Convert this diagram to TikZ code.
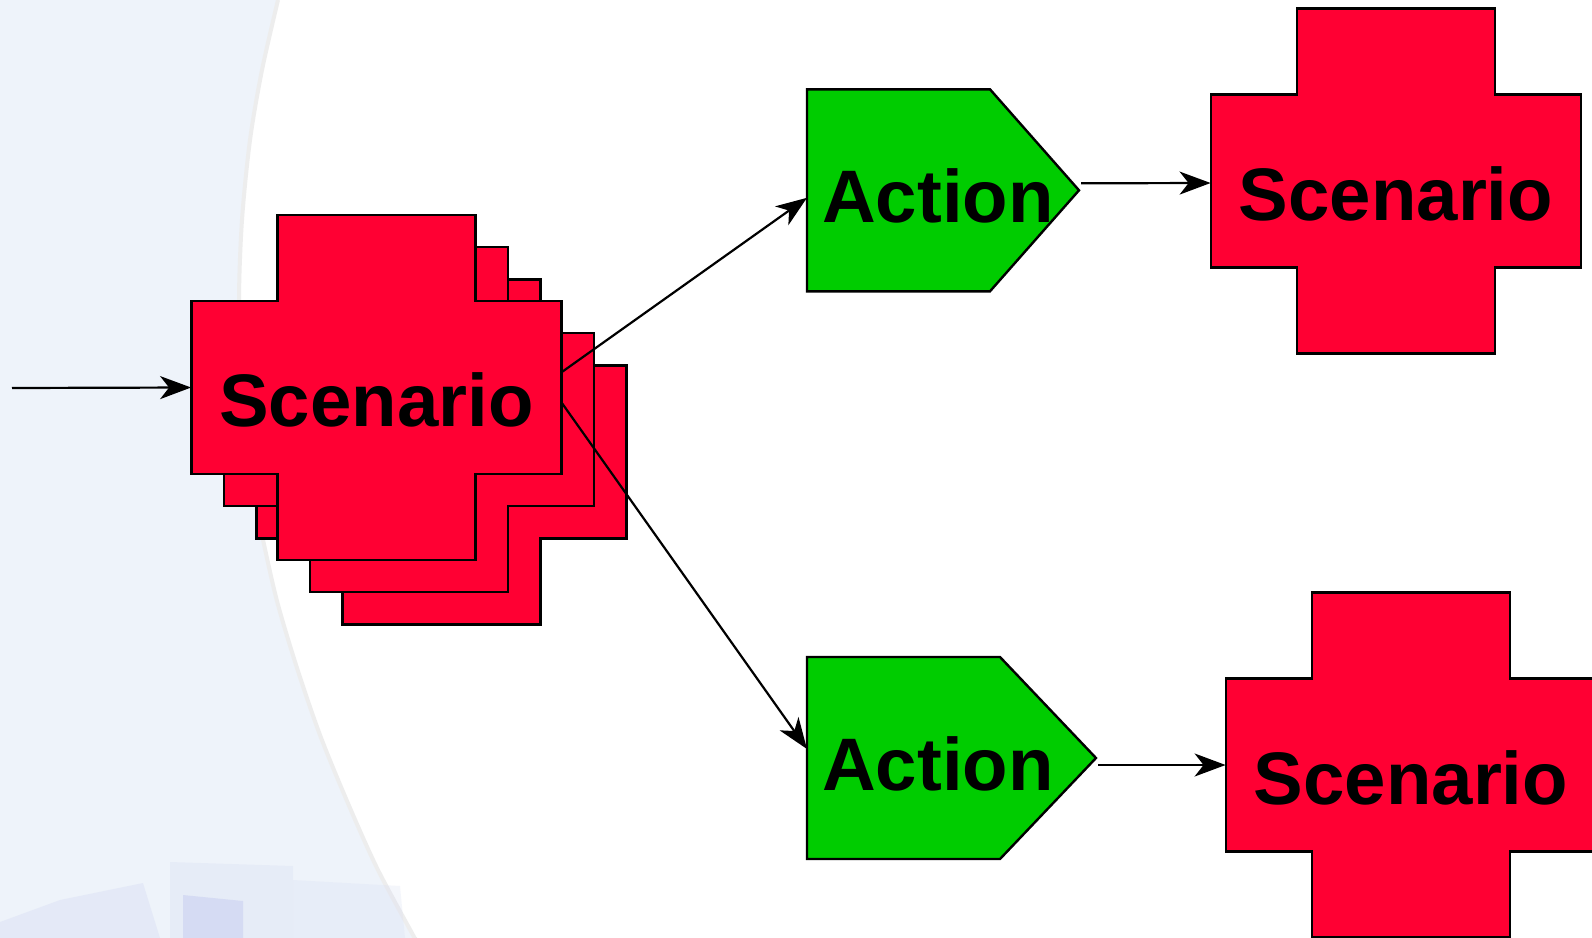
\documentclass[tikz,border=0pt]{standalone}
\usepackage{fontspec}
\setmainfont{Liberation Sans}
\usepackage{tikz}
\usetikzlibrary{arrows.meta,calc}
\definecolor{scenred}{RGB}{255,0,51}
\definecolor{actgreen}{RGB}{0,204,0}
\definecolor{paper}{RGB}{238,243,250}
\definecolor{ghost}{RGB}{214,220,243}
\definecolor{ghostdark}{RGB}{200,206,240}
\tikzset{
  crossline/.style={draw=black,fill=scenred,line width=1.2pt},
  actline/.style={draw=black,fill=actgreen,line width=1.2pt},
  boxtext/.style={font=\fontsize{37.2}{40}\selectfont\bfseries,inner sep=0pt,text depth=0pt},
  scen/.style={boxtext,minimum width=185pt,minimum height=172.5pt,text height=39.2pt},
  act/.style={boxtext,minimum width=130.5pt,minimum height=101pt,text height=32.2pt},
  flow/.style={line width=1.1pt,-{Stealth[length=15.5pt,width=11.5pt,inset=4.5pt]}}
}
% cross outline around a centre point
\newcommand{\crossat}[2]{\filldraw[crossline] (#1-99,#2-172.5) -- ++(198,0) -- ++(0,86) -- ++(86,0) -- ++(0,173) -- ++(-86,0) -- ++(0,86) -- ++(-198,0) -- ++(0,-86) -- ++(-86,0) -- ++(0,-173) -- ++(86,0) -- cycle;}
\newcommand{\scenario}[3]{\crossat{#2}{#3}\node[scen] (#1) at (#2,#3) {Scenario};}
% name, left, top, body width, point width
\newcommand{\action}[5]{
  \filldraw[actline] (#2,#3) -- ++(#4,0) -- ++(#5,101) coordinate (#1tip) -- ++(-#5,101) -- ++(-#4,0) -- cycle;
  \node[act,anchor=west] (#1) at (#2,#3+101) {Action};
}
\newcommand{\edgecurve}{(278,0) (262,70) (250,140) (242,220) (239,300) (241,400) (249,470) (262,535) (277,601) (297,668) (320,735) (347,801) (377,868) (413,935) (415,938)}
\begin{document}
\begin{tikzpicture}[x=0.5pt,y=-0.5pt]
\useasboundingbox (0,0) rectangle (1592,938);
\clip (0,0) rectangle (1592,938);
% backdrop
\fill[paper] (0,0) rectangle (1592,938);
\fill[white] plot[smooth] coordinates {\edgecurve} -- (1592,938) -- (1592,0) -- cycle;
\draw[black!7,line width=2pt] plot[smooth] coordinates {\edgecurve};
\fill[ghost,opacity=.4] (0,922) -- (60,900) -- (143,883) -- (160,938) -- (0,938) -- cycle;
\fill[ghost,opacity=.3] (170,862) -- (293,866) -- (293,938) -- (170,938) -- cycle;
\fill[ghostdark,opacity=.55] (183,895) -- (243,901) -- (243,938) -- (183,938) -- cycle;
\fill[ghost,opacity=.25] (293,880) -- (400,886) -- (405,938) -- (293,938) -- cycle;

\crossat{441.5}{452}
\crossat{409}{419.5}
\scenario{s0}{376.5}{387.5}
\action{a1}{807}{89.3}{183}{89}
\action{a2}{807}{657}{193}{96}
\scenario{s1}{1396}{181}
\scenario{s2}{1411}{765}

\coordinate (in) at (12,388);
\draw[flow] (in) -- (s0.west);
\draw[flow] ([yshift=7.75pt]s0.east) -- ([yshift=-3.75pt]a1.west);
\draw[flow] ([yshift=-7.75pt]s0.east) -- ([yshift=4.5pt]a2.west);
\draw[flow] ([xshift=1pt,yshift=3.5pt]a1tip) -- ([yshift=-1pt]s1.west);
\draw[flow] ([xshift=1pt,yshift=-3.5pt]a2tip) -- (s2.west);
\end{tikzpicture}
\end{document}
